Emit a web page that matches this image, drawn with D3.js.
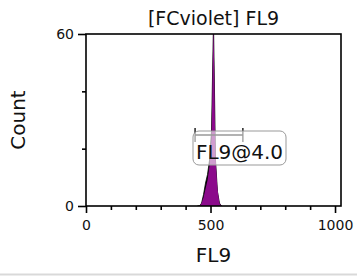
<!DOCTYPE html>
<html>
<head>
<meta charset="utf-8">
<script src="https://cdn.jsdelivr.net/npm/d3@7"></script>
<style>
  body { margin: 0; background: #fff; }
  text { font-family: "DejaVu Sans", sans-serif; fill: #111; }
</style>
</head>
<body>
<div id="chart"></div>
<script>
// histogram bins (channel) and counts for the two overlaid populations
var binCenters = [448, 456, 464, 472, 480, 488, 496, 504, 512, 520, 528, 536, 544];
var blackCounts = [0, 0, 1, 4, 8, 11, 16, 26, 64, 16, 5, 1, 0];
var purpleCounts = [0, 0, 1, 3, 6, 9, 14, 24, 64, 17, 6, 1, 0];
var xTicksMajor = [0, 500, 1000];
var xTicksMinor = [100, 200, 300, 400, 600, 700, 800, 900];
var yTicksMajor = [0, 60];
var yTicksMinor = [20, 40];

var width = 357, height = 276;
var margin = {left: 86, right: 16, top: 34, bottom: 70};

var svg = d3.select("#chart")
  .append("svg")
  .attr("width", width)
  .attr("height", height);

var x = d3.scaleLinear().domain([0, 1024]).range([margin.left, width - margin.right]);
var y = d3.scaleLinear().domain([0, 60]).range([height - margin.bottom, margin.top]);

svg.append("clipPath").attr("id", "plotclip")
  .append("rect")
  .attr("x", margin.left)
  .attr("y", margin.top)
  .attr("width", width - margin.right - margin.left)
  .attr("height", height - margin.bottom - margin.top);

var plot = svg.append("g").attr("clip-path", "url(#plotclip)");

function areaFor(counts) {
  return d3.area()
    .x(function(d, i) { return x(binCenters[i]); })
    .y0(y(0))
    .y1(function(d) { return y(d); })(counts);
}

plot.append("path")
  .attr("d", areaFor(blackCounts))
  .attr("fill", "#000")
  .attr("stroke", "#000")
  .attr("stroke-width", 0.8);

plot.append("path")
  .attr("d", areaFor(purpleCounts))
  .attr("fill", "#8b0a8b");

// frame
svg.append("rect")
  .attr("x", margin.left)
  .attr("y", margin.top)
  .attr("width", width - margin.right - margin.left)
  .attr("height", height - margin.bottom - margin.top)
  .attr("fill", "none")
  .attr("stroke", "#000")
  .attr("stroke-width", 1.6);

// x axis
svg.append("g")
  .attr("transform", "translate(0," + y(0) + ")")
  .call(d3.axisBottom(x).tickValues(xTicksMajor).tickSize(7).tickPadding(7).tickFormat(d3.format("d")));
svg.append("g")
  .attr("transform", "translate(0," + y(0) + ")")
  .call(d3.axisBottom(x).tickValues(xTicksMinor).tickSize(4).tickFormat(""));

// y axis
svg.append("g")
  .attr("transform", "translate(" + margin.left + ",0)")
  .call(d3.axisLeft(y).tickValues(yTicksMajor).tickSize(8).tickPadding(4));
svg.append("g")
  .attr("transform", "translate(" + margin.left + ",0)")
  .call(d3.axisLeft(y).tickValues(yTicksMinor).tickSize(4).tickFormat(""));

svg.selectAll(".domain").remove();
svg.selectAll(".tick line").attr("stroke", "#000").attr("stroke-width", 1.6);
svg.selectAll(".tick text")
  .style("font-family", "DejaVu Sans, sans-serif")
  .style("font-size", "14px")
  .attr("fill", "#111");

// gate marker and label
var gx0 = x(438), gx1 = x(630), gy = 135;
var gate = svg.append("g").attr("stroke", "#000").attr("stroke-width", 1.3);
gate.append("line").attr("x1", gx0).attr("x2", gx1).attr("y1", gy).attr("y2", gy);
gate.append("line").attr("x1", gx0).attr("x2", gx0).attr("y1", gy - 7).attr("y2", gy + 7);
gate.append("line").attr("x1", gx1).attr("x2", gx1).attr("y1", gy - 7).attr("y2", gy + 7);

svg.append("rect")
  .attr("x", 193)
  .attr("y", 131)
  .attr("width", 93)
  .attr("height", 34)
  .attr("rx", 6)
  .attr("fill", "rgba(255,255,255,0.6)")
  .attr("stroke", "#999")
  .attr("stroke-width", 1);

svg.append("text")
  .attr("x", 239.5)
  .attr("y", 159)
  .attr("text-anchor", "middle")
  .style("font-size", "20px")
  .text("FL9@4.0");

// titles
svg.append("text")
  .attr("x", (margin.left + width - margin.right) / 2)
  .attr("y", 25)
  .attr("text-anchor", "middle")
  .style("font-size", "19px")
  .text("[FCviolet] FL9");

svg.append("text")
  .attr("x", (margin.left + width - margin.right) / 2)
  .attr("y", 262)
  .attr("text-anchor", "middle")
  .style("font-size", "20px")
  .text("FL9");

svg.append("text")
  .attr("transform", "translate(25," + (height - margin.bottom + margin.top) / 2 + ")rotate(-90)")
  .attr("text-anchor", "middle")
  .style("font-size", "20px")
  .text("Count");

svg.append("line")
  .attr("x1", 0).attr("x2", width)
  .attr("y1", 274.5).attr("y2", 274.5)
  .attr("stroke", "#d9d9d9")
  .attr("stroke-width", 2);
</script>
</body>
</html>
